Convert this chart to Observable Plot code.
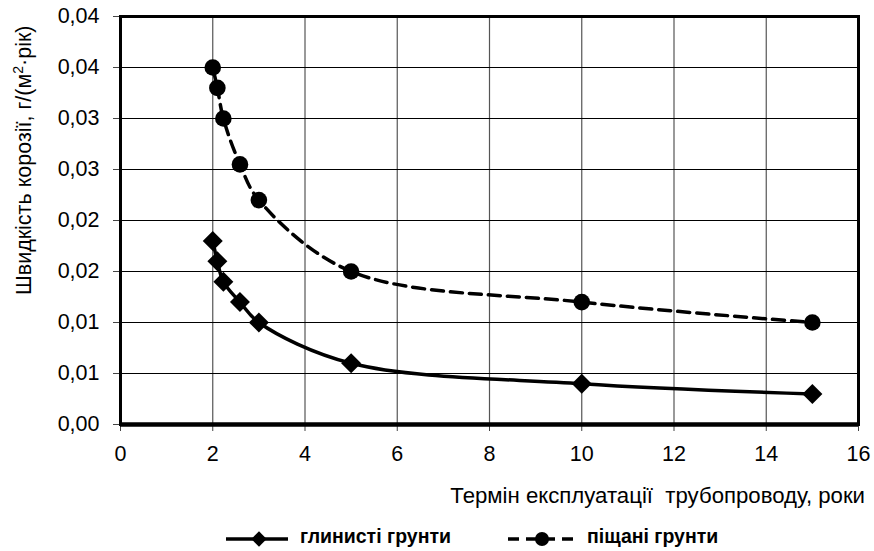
<!DOCTYPE html>
<html>
<head>
<meta charset="utf-8">
<script src="https://cdn.jsdelivr.net/npm/d3@7"></script>
<script src="https://cdn.jsdelivr.net/npm/@observablehq/plot@0.6"></script>
<style>
  html, body { margin: 0; padding: 0; background: #fff; }
  #wrap { position: relative; width: 874px; height: 551px; font-family: "Liberation Sans", Arial, sans-serif; }
  #chart { position: absolute; left: 0; top: 0; }
  #legend { position: absolute; left: 0; top: 515px; }
</style>
</head>
<body>
<div id="wrap">
  <div id="chart"></div>
  <svg id="legend" width="874" height="36"></svg>
</div>
<script>
// ---- data ----
const years = [2, 2.1, 2.23, 2.59, 3, 5, 10, 15];
const clayRates = [0.018, 0.016, 0.014, 0.012, 0.010, 0.006, 0.004, 0.003];
const sandRates = [0.035, 0.033, 0.030, 0.0255, 0.022, 0.015, 0.012, 0.010];
const seriesNames = ["глинисті грунти", "піщані грунти"];
const xTicks = [0, 2, 4, 6, 8, 10, 12, 14, 16];
const yTicks = [0, 0.005, 0.01, 0.015, 0.02, 0.025, 0.03, 0.035, 0.04];
const yTickLabels = ["0,00", "0,01", "0,01", "0,02", "0,02", "0,03", "0,03", "0,04", "0,04"];
const xTitle = "Термін експлуатації  трубопроводу, роки";
const yTitleParts = ["Швидкість корозії, г/(м", "2", "·рік)"];

const clay = years.map((x, i) => ({x, y: clayRates[i]}));
const sand = years.map((x, i) => ({x, y: sandRates[i]}));

const FONT = "'Liberation Sans', Arial, sans-serif";
const H = 515;
const plot = Plot.plot({
  width: 874,
  height: H,
  marginLeft: 120,
  marginRight: 16,
  marginTop: 16,
  marginBottom: H - 424,
  style: {fontFamily: FONT, fontSize: "21.5px", color: "#000", background: "#fff", overflow: "visible"},
  x: {domain: [0, 16]},
  y: {domain: [0, 0.04]},
  marks: [
    Plot.ruleX(xTicks, {stroke: "#555", strokeWidth: 1.2}),
    Plot.ruleY(yTicks, {stroke: "#000", strokeWidth: 1}),
    Plot.axisX({ticks: xTicks, tickSize: 7, tickPadding: 14, label: null, stroke: "#444"}),
    Plot.axisY({ticks: yTicks, tickSize: 7, tickPadding: 14, label: null, stroke: "#444",
      tickFormat: d => yTickLabels[yTicks.findIndex(t => Math.abs(t - d) < 1e-9)]}),
    Plot.frame({stroke: "#000", strokeWidth: 3}),
    Plot.ruleY([0], {stroke: "#000", strokeWidth: 4.5}),
    Plot.line(sand, {x: "x", y: "y", curve: "catmull-rom", stroke: "#000", strokeWidth: 3.5, strokeDasharray: "12,7"}),
    Plot.line(clay, {x: "x", y: "y", curve: "catmull-rom", stroke: "#000", strokeWidth: 3.5}),
    Plot.dot(sand, {x: "x", y: "y", symbol: "circle", r: 8.3, fill: "#000", stroke: "none"}),
    Plot.dot(clay, {x: "x", y: "y", symbol: "diamond2", r: 9, fill: "#000", stroke: "none"})
  ]
});
document.getElementById("chart").appendChild(plot);

const svg = d3.select(plot);
svg.append("text")
  .attr("x", 865).attr("y", 503)
  .attr("text-anchor", "end")
  .attr("font-size", "22.2px")
  .style("white-space", "pre")
  .attr("fill", "#000")
  .text(xTitle);

const yt = svg.append("text")
  .attr("transform", "translate(31,295) rotate(-90)")
  .attr("text-anchor", "start")
  .attr("fill", "#000");
yt.append("tspan").text(yTitleParts[0]);
yt.append("tspan").attr("font-size", "14px").attr("dy", "-8").text(yTitleParts[1]);
yt.append("tspan").attr("dy", "8").text(yTitleParts[2]);

// ---- legend ----
const lg = d3.select("#legend");
const ly = 24;
lg.append("line").attr("x1", 226).attr("x2", 288).attr("y1", ly).attr("y2", ly)
  .attr("stroke", "#000").attr("stroke-width", 3.5);
lg.append("path").attr("d", d3.symbol(d3.symbolDiamond2, 150)())
  .attr("transform", `translate(259,${ly})`).attr("fill", "#000");
lg.append("text").attr("x", 300).attr("y", ly + 4).attr("font-weight", "bold")
  .attr("font-size", "19.5px").attr("font-family", FONT).text(seriesNames[0]);
lg.append("line").attr("x1", 508).attr("x2", 577).attr("y1", ly).attr("y2", ly)
  .attr("stroke", "#000").attr("stroke-width", 3.5).attr("stroke-dasharray", "11,7");
lg.append("circle").attr("cx", 542).attr("cy", ly).attr("r", 7).attr("fill", "#000");
lg.append("text").attr("x", 587).attr("y", ly + 4).attr("font-weight", "bold")
  .attr("font-size", "19.5px").attr("font-family", FONT).text(seriesNames[1]);
</script>
</body>
</html>
